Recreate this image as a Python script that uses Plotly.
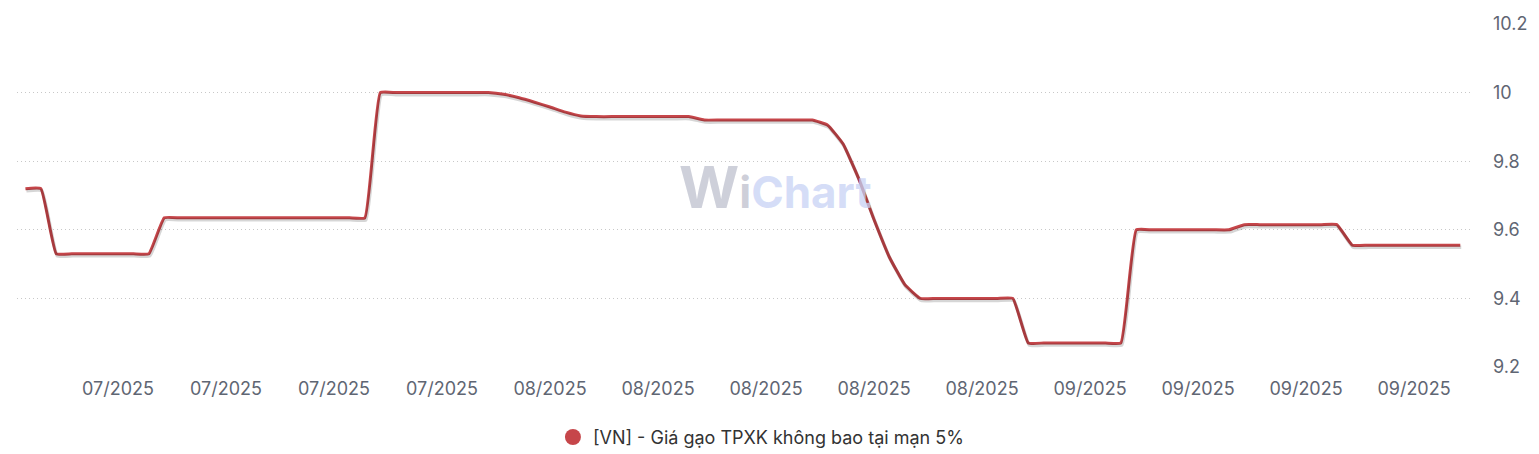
import plotly.graph_objects as go
import datetime as _dt

# ---------------- data ----------------
dates = [
    "2025-06-28", "2025-06-29", "2025-06-30",
    "2025-07-01", "2025-07-02", "2025-07-03", "2025-07-04", "2025-07-05", "2025-07-06",
    "2025-07-07", "2025-07-08", "2025-07-09", "2025-07-10", "2025-07-11", "2025-07-12", "2025-07-13",
    "2025-07-14", "2025-07-15", "2025-07-16", "2025-07-17", "2025-07-18", "2025-07-19", "2025-07-20",
    "2025-07-21", "2025-07-22", "2025-07-23", "2025-07-24", "2025-07-25", "2025-07-26", "2025-07-27",
    "2025-07-28", "2025-07-29", "2025-07-30", "2025-07-31",
    "2025-08-01", "2025-08-02", "2025-08-03", "2025-08-04", "2025-08-05", "2025-08-06", "2025-08-07",
    "2025-08-08", "2025-08-09", "2025-08-10", "2025-08-11", "2025-08-12", "2025-08-13", "2025-08-14",
    "2025-08-15", "2025-08-16", "2025-08-17", "2025-08-18", "2025-08-19", "2025-08-20", "2025-08-21",
    "2025-08-22", "2025-08-23", "2025-08-24", "2025-08-25", "2025-08-26", "2025-08-27", "2025-08-28",
    "2025-08-29", "2025-08-30", "2025-08-31",
    "2025-09-01", "2025-09-02", "2025-09-03", "2025-09-04", "2025-09-05", "2025-09-06", "2025-09-07",
    "2025-09-08", "2025-09-09", "2025-09-10", "2025-09-11", "2025-09-12", "2025-09-13", "2025-09-14",
    "2025-09-15", "2025-09-16", "2025-09-17", "2025-09-18", "2025-09-19", "2025-09-20", "2025-09-21",
    "2025-09-22", "2025-09-23", "2025-09-24", "2025-09-25", "2025-09-26", "2025-09-27", "2025-09-28",
    "2025-09-29",
]
prices = [
    9.72, 9.72, 9.53,
    9.53, 9.53, 9.53, 9.53, 9.53, 9.53,
    9.635, 9.635, 9.635, 9.635, 9.635, 9.635, 9.635,
    9.635, 9.635, 9.635, 9.635, 9.635, 9.635, 9.635,
    10.0, 10.0, 10.0, 10.0, 10.0, 10.0, 10.0,
    10.0, 9.995, 9.985, 9.972,
    9.958, 9.943, 9.932, 9.93, 9.93, 9.93, 9.93,
    9.93, 9.93, 9.93, 9.92, 9.92, 9.92, 9.92,
    9.92, 9.92, 9.92, 9.92, 9.905, 9.85, 9.75,
    9.63, 9.52, 9.44, 9.40, 9.40, 9.40, 9.40,
    9.40, 9.40, 9.40,
    9.27, 9.27, 9.27, 9.27, 9.27, 9.27, 9.27,
    9.60, 9.60, 9.60, 9.60, 9.60, 9.60, 9.60,
    9.615, 9.615, 9.615, 9.615, 9.615, 9.615, 9.615,
    9.555, 9.555, 9.555, 9.555, 9.555, 9.555, 9.555,
    9.555,
]
series_name = "[VN] - Giá gạo TPXK không bao tại mạn 5%"

tick_dates = [
    "2025-07-04", "2025-07-11", "2025-07-18", "2025-07-25",
    "2025-08-01", "2025-08-08", "2025-08-15", "2025-08-22", "2025-08-29",
    "2025-09-05", "2025-09-12", "2025-09-19", "2025-09-26",
]
tick_labels = [
    "07/2025", "07/2025", "07/2025", "07/2025",
    "08/2025", "08/2025", "08/2025", "08/2025", "08/2025",
    "09/2025", "09/2025", "09/2025", "09/2025",
]
y_ticks = [9.2, 9.4, 9.6, 9.8, 10, 10.2]
y_tick_labels = ["9.2", "9.4", "9.6", "9.8", "10", "10.2"]

# ---------------- style ----------------
LINE = "#c6464a"
TICK_COLOR = "#5f6673"
X_RANGE = ["2025-06-27 10:54", "2025-09-29 15:07"]
Y_RANGE = [9.2, 10.2]
SHADOW_DY = 0.006      # ~2px down
SHADOW_DX_H = 1.5      # ~1px right (hours)
SMOOTH = 0.35


def _shift(ts, hours):
    t = _dt.datetime.strptime(ts, "%Y-%m-%d %H:%M")
    return (t - _dt.timedelta(hours=hours)).strftime("%Y-%m-%d %H:%M")


fig = go.Figure()

# shadow (drawn on a slightly offset overlaying axis pair)
fig.add_trace(go.Scatter(
    x=dates, y=prices, mode="lines",
    line=dict(color="rgba(0,0,0,0.16)", width=3.5, shape="spline", smoothing=SMOOTH),
    xaxis="x2", yaxis="y2", showlegend=False, hoverinfo="skip",
))

fig.add_trace(go.Scatter(
    x=dates, y=prices, mode="lines", name=series_name,
    line=dict(color=LINE, width=3, shape="spline", smoothing=SMOOTH),
    showlegend=False,
))

# legend entry (circle symbol)
fig.add_trace(go.Scatter(
    x=[None], y=[None], mode="markers", name=series_name,
    marker=dict(color=LINE, size=18, symbol="circle"),
))

fig.update_layout(
    width=1539, height=454,
    margin=dict(l=17, r=69, t=24, b=87, autoexpand=False),
    paper_bgcolor="white", plot_bgcolor="white",
    font=dict(family="Inter, Roboto, sans-serif", size=18, color=TICK_COLOR),
    xaxis=dict(
        type="date", range=X_RANGE,
        tickvals=tick_dates, ticktext=tick_labels,
        showgrid=False, zeroline=False, showline=False, ticks="",
        tickfont=dict(size=18, color=TICK_COLOR),
        ticklabelstandoff=9, automargin=False,
    ),
    yaxis=dict(
        side="right", range=Y_RANGE,
        tickvals=y_ticks, ticktext=y_tick_labels,
        showgrid=True, gridcolor="#c8c8c8", griddash="1px,3px", gridwidth=1,
        zeroline=False, showline=False, ticks="",
        tickfont=dict(size=18, color=TICK_COLOR),
        ticklabelstandoff=22, automargin=False,
    ),
    xaxis2=dict(
        type="date", overlaying="x",
        range=[_shift(X_RANGE[0], SHADOW_DX_H), _shift(X_RANGE[1], SHADOW_DX_H)],
        visible=False,
    ),
    yaxis2=dict(
        overlaying="y", range=[Y_RANGE[0] + SHADOW_DY, Y_RANGE[1] + SHADOW_DY],
        visible=False,
    ),
    legend=dict(
        orientation="h", x=0.512, xanchor="center", y=-0.205, yanchor="middle",
        font=dict(size=18, color="#333333"),
        itemwidth=30,
    ),
    showlegend=True,
)

# watermark
fig.add_annotation(
    x=0.522, y=0.526, xref="paper", yref="paper",
    xanchor="center", yanchor="middle", showarrow=False,
    text=("<b><span style='font-size:58px;color:rgba(190,192,205,0.75)'>W</span>"
          "<span style='color:rgba(190,192,205,0.75)'>i</span>"
          "<span style='color:rgba(200,210,245,0.75)'>Chart</span></b>"),
    font=dict(family="Inter, sans-serif", size=44),
)

fig.write_html("out.html", config={"displayModeBar": False},
               post_script="document.body.style.margin='0';")
